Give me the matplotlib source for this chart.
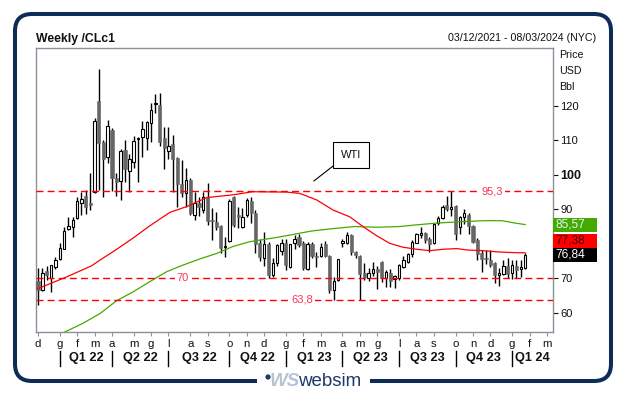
import numpy as np
import matplotlib
matplotlib.use("Agg")
import matplotlib.pyplot as plt
import matplotlib.transforms as mtransforms
from matplotlib.patches import Rectangle, FancyBboxPatch, Circle

plt.rcParams['font.family'] = ['Liberation Sans', 'DejaVu Sans']

# =========================
# Dati (settimanali, CLc1)
# =========================

opens = [69.3, 66.6, 72.1, 70.0, 73.2, 75.5, 78.6, 84.2, 84.8, 87.4,
         91.7, 93.9, 91.7, 95.0, 121.4, 109.6, 105.1, 113.0, 99.2, 98.3,
         107.2, 101.2, 103.8, 110.3, 110.9, 110.6, 115.0, 120.6, 120.3, 110.6,
         107.0, 109.0, 105.0, 97.4, 94.8, 98.5, 88.4, 91.9, 89.8, 93.4,
         87.0, 86.2, 85.2, 79.0, 80.8, 93.7, 88.3, 85.0, 88.4, 92.4,
         89.0, 80.1, 76.0, 79.8, 71.0, 74.3, 78.0, 80.3, 73.4, 80.1,
         81.9, 80.1, 72.7, 79.9, 76.5, 76.5, 79.9, 76.5, 66.6, 69.5,
         80.1, 80.3, 82.6, 77.7, 76.5, 71.4, 70.0, 71.5, 72.8, 74.6,
         70.0, 71.4, 69.7, 70.0, 73.4, 74.8, 77.0, 80.3, 82.6, 83.2,
         81.3, 80.1, 85.9, 87.4, 91.3, 90.2, 91.0, 85.0, 87.7, 88.4,
         85.2, 81.1, 77.2, 75.7, 75.3, 74.5, 71.0, 71.2, 73.6, 71.6,
         73.6, 72.6, 72.9]
highs = [72.9, 72.9, 73.6, 73.9, 76.3, 80.3, 85.0, 87.9, 87.9, 93.7,
         94.9, 95.6, 100.5, 116.6, 130.7, 110.1, 115.8, 113.5, 100.5, 107.4,
         110.1, 106.0, 111.3, 110.9, 115.6, 115.6, 120.8, 123.5, 123.7, 114.0,
         114.0, 111.6, 105.2, 104.3, 101.9, 99.0, 94.9, 93.7, 95.1, 97.5,
         90.3, 89.3, 85.5, 82.1, 92.9, 93.9, 90.8, 90.3, 93.3, 93.7,
         89.8, 81.4, 83.3, 80.6, 76.0, 80.0, 81.5, 81.5, 80.0, 82.5,
         82.7, 80.9, 80.6, 80.6, 77.7, 80.3, 80.9, 76.8, 70.5, 75.7,
         81.5, 83.5, 82.9, 78.0, 76.6, 74.3, 72.9, 74.8, 73.5, 75.0,
         72.5, 72.8, 71.0, 74.0, 76.5, 77.4, 81.1, 83.0, 84.9, 83.5,
         82.1, 86.1, 88.1, 91.3, 93.9, 95.3, 91.3, 88.0, 90.2, 89.0,
         85.5, 81.6, 78.2, 78.2, 78.2, 74.8, 72.9, 75.3, 76.0, 75.2,
         75.3, 75.2, 77.2]
lows = [62.2, 66.4, 69.5, 65.9, 72.7, 75.2, 78.4, 84.0, 82.1, 87.2,
        88.4, 88.6, 89.8, 94.7, 95.6, 93.5, 103.5, 95.4, 93.9, 92.7,
        98.0, 95.1, 101.9, 98.0, 105.1, 107.2, 109.5, 117.9, 108.4, 101.6,
        104.6, 95.1, 90.6, 93.7, 90.6, 88.4, 86.9, 88.2, 88.8, 85.5,
        81.1, 84.0, 77.2, 76.1, 80.6, 85.0, 84.5, 84.5, 87.9, 85.9,
        77.2, 75.0, 73.6, 70.1, 70.3, 73.5, 76.8, 72.5, 73.0, 78.5,
        79.0, 72.4, 72.4, 75.8, 73.4, 76.3, 76.3, 65.6, 63.7, 69.2,
        79.0, 80.0, 76.8, 76.0, 63.7, 69.5, 69.3, 70.6, 67.0, 69.0,
        67.5, 67.5, 67.1, 69.5, 73.0, 74.3, 76.3, 80.1, 81.8, 80.1,
        77.7, 79.9, 85.4, 87.1, 89.6, 88.2, 81.1, 82.8, 85.6, 82.8,
        80.1, 75.3, 71.9, 74.0, 73.4, 68.5, 67.7, 70.9, 70.0, 69.9,
        70.0, 70.5, 72.6]
closes = [66.6, 71.5, 70.9, 73.7, 75.3, 78.7, 83.6, 85.2, 86.9, 92.4,
          93.0, 90.8, 91.3, 115.6, 109.2, 104.5, 114.2, 99.2, 97.9, 107.0,
          101.7, 104.6, 109.8, 110.6, 113.2, 115.2, 118.8, 120.8, 109.4, 107.7,
          108.4, 104.5, 97.4, 94.8, 98.5, 88.8, 91.9, 90.6, 93.7, 86.7,
          86.7, 85.0, 78.7, 79.4, 92.5, 85.5, 87.8, 87.9, 92.7, 89.0,
          79.9, 76.1, 79.9, 71.0, 74.3, 79.5, 80.2, 73.8, 79.8, 81.4,
          79.5, 72.9, 79.9, 76.5, 76.2, 79.2, 76.5, 66.7, 69.2, 75.5,
          80.7, 82.6, 77.7, 76.6, 71.2, 70.3, 71.4, 72.6, 71.7, 70.2,
          71.8, 69.2, 70.6, 73.8, 75.4, 77.0, 80.6, 82.8, 83.2, 81.2,
          79.8, 85.6, 87.5, 90.8, 90.0, 90.8, 82.7, 87.7, 88.8, 85.2,
          80.5, 77.0, 75.6, 75.5, 73.8, 70.9, 71.4, 73.6, 71.2, 73.8,
          72.4, 73.2, 76.84]

# medie mobili (lette a intervalli sul grafico)
ma_red_x = [0, 6.6, 12.3, 14.3, 18.1, 21.8, 25.7, 30.3, 34.2, 38.8,
            44.8, 49.4, 57.2, 60.2, 64.1, 67.8, 71.7, 74.7, 77.9, 80.9,
            83.9, 87.1, 90.1, 93.1, 96.3, 98.6, 102.3, 106.2, 110.0, 112.0]
ma_red_y = [67.0, 70.4, 73.6, 75.3, 78.4, 81.6, 85.2, 89.1, 90.8, 93.4,
            94.2, 95.1, 95.0, 94.6, 92.7, 89.8, 87.8, 85.0, 82.3, 80.1,
            79.0, 78.4, 78.0, 78.4, 78.6, 78.2, 78.0, 77.6, 77.4, 77.38]
ma_green_x = [5.5, 10.3, 14.3, 18.1, 21.8, 25.7, 29.6, 33.3, 37.2, 41.1,
              44.8, 48.7, 55.2, 62.9, 67.8, 72.9, 77.9, 83.2, 87.1, 91.7,
              97.0, 102.8, 106.6, 109.7, 112.0]
ma_green_y = [54.0, 56.9, 59.8, 63.5, 66.0, 69.0, 71.9, 73.8, 75.6, 77.2,
              79.2, 80.6, 81.9, 83.7, 84.4, 85.0, 84.8, 85.0, 85.5, 86.0,
              86.4, 86.7, 86.7, 86.0, 85.57]

levels = [95.3, 70.0, 63.8]
level_text = ["95,3", "70", "63,8"]
level_label_x = [104.4, 33.3, 60.7]

month_idx = [0, 5, 9, 13, 17, 22, 26, 30, 35, 39, 44, 48, 52, 57,
             61, 65, 70, 74, 78, 83, 87, 91, 96, 100, 104, 109, 113, 117]
month_labels = ["d", "g", "f", "m", "a", "m", "g", "l", "a", "s", "o", "n", "d", "g",
                "f", "m", "a", "m", "g", "l", "a", "s", "o", "n", "d", "g", "f", "m"]
quarter_sep = [5, 17, 30, 44, 57, 70, 83, 96, 109]
quarter_labels = ["Q1 22", "Q2 22", "Q3 22", "Q4 22", "Q1 23",
                  "Q2 23", "Q3 23", "Q4 23", "Q1 24"]

ytick_vals = [60, 70, 90, 100, 110, 120]

last_close = closes[-1]
last_red = ma_red_y[-1]
last_green = ma_green_y[-1]

# =========================
# Figura
# =========================

fig = plt.figure(figsize=(6.27, 3.96), dpi=100)

bg = fig.add_axes([0, 0, 1, 1], zorder=0)
bg.set_xlim(0, 627)
bg.set_ylim(396, 0)
bg.axis("off")

bg.add_patch(FancyBboxPatch((15, 14), 596, 367,
                            boxstyle="round,pad=0,rounding_size=17",
                            lw=2.9, ec="#0e2c58", fc="none"))
bg.add_patch(Rectangle((257, 372), 113, 24, fc="white", ec="none"))
bg.add_patch(Circle((268, 377), 1.9, color="#1b3766"))
bg.text(270, 382, "WS", fontsize=13.5, fontweight="bold", style="italic",
        color="#b8c2d2", ha="left", va="center")
bg.text(298, 381, "websim", fontsize=13.5, color="#1d3868", ha="left", va="center")

bg.text(36, 39, "Weekly /CLc1", fontsize=8.8, fontweight="bold",
        color="#111111", ha="left", va="center")
bg.text(596, 38, "03/12/2021 - 08/03/2024 (NYC)", fontsize=7.7,
        color="#111111", ha="right", va="center")
for yy, t in zip([55, 71, 87], ["Price", "USD", "Bbl"]):
    bg.text(559, yy, t, fontsize=7.7, color="#111111", ha="left", va="center")

ax = fig.add_axes([36 / 627, 1 - 332 / 396, 517 / 627, 284 / 396], zorder=1)
ax.set_xlim(-0.46, 118.4)
ax.set_ylim(54.4, 136.8)

o = np.array(opens)
h = np.array(highs)
l = np.array(lows)
c = np.array(closes)
x = np.arange(len(c))
up = c >= o
bottoms = np.minimum(o, c)
heights = np.maximum(np.abs(c - o), 0.3)

ax.vlines(x, l, h, color="black", lw=1, zorder=2)
ax.bar(x[up], heights[up], bottom=bottoms[up], width=0.55,
       fc="white", ec="black", lw=0.8, zorder=3)
ax.bar(x[~up], heights[~up], bottom=bottoms[~up], width=0.72,
       fc="#666666", ec="#666666", lw=0.4, zorder=3)

ax.plot(ma_green_x, ma_green_y, color="#44aa00", lw=0.9, zorder=4)
ax.plot(ma_red_x, ma_red_y, color="#ff0000", lw=0.9, zorder=4)

for lvl, txt, lx in zip(levels, level_text, level_label_x):
    ax.axhline(lvl, color="#ff0000", lw=1, dashes=(5, 3), zorder=4)
    ax.text(lx, lvl, txt, color="#ff3355", fontsize=8, ha="center", va="center",
            bbox=dict(fc="white", ec="none", pad=1.2), zorder=5)

ax.annotate("WTI", xy=(63.4, 98.2), xytext=(72.0, 105.8), fontsize=8,
            ha="center", va="center", color="#111111",
            bbox=dict(boxstyle="square,pad=0.7", fc="white", ec="black", lw=0.8),
            arrowprops=dict(arrowstyle="-", color="black", lw=0.8,
                            relpos=(0, 0), shrinkA=0, shrinkB=0),
            zorder=6)

# assi
for sp in ax.spines.values():
    sp.set_color("#8f8f9c")
    sp.set_linewidth(1)

ax.yaxis.tick_right()
ax.set_yticks(ytick_vals)
ax.set_yticklabels([str(v) for v in ytick_vals])
ax.tick_params(axis="y", length=3.6, width=0.8, pad=1.8, labelsize=8,
               colors="#111111")
for lab in ax.get_yticklabels():
    if lab.get_text() == "100":
        lab.set_fontweight("bold")
        lab.set_fontsize(9)

ax.set_xticks(month_idx)
ax.set_xticklabels(month_labels)
ax.tick_params(axis="x", length=3, width=0.8, pad=2, labelsize=8.2,
               colors="#111111")
ax.tick_params(axis="x", color="#8f8f9c")

trans_x = mtransforms.blended_transform_factory(ax.transData, ax.transAxes)
for s in quarter_sep:
    ax.plot([s, s], [-0.067, -0.12], transform=trans_x, clip_on=False,
            color="black", lw=1)
q_edges = quarter_sep + [ax.get_xlim()[1]]
for i, q in enumerate(quarter_labels):
    xc = (q_edges[i] + q_edges[i + 1]) / 2
    ax.text(xc, -0.092, q, transform=trans_x, fontsize=9.2, fontweight="bold",
            ha="center", va="center", color="#111111")

# box con ultimi valori
trans_y = mtransforms.blended_transform_factory(ax.transAxes, ax.transData)
box_h = 4.06
boxes = [
    (last_green, "#44aa00", "#e0f4ff", last_green),
    (last_close + box_h, "#ff0000", "#3a0000", last_red),
    (last_close, "#000000", "#ffffff", last_close),
]
for yc, fc, tc, val in boxes:
    ax.add_patch(Rectangle((1.0, yc - box_h / 2), 0.086, box_h, transform=trans_y,
                           fc=fc, ec="none", clip_on=False, zorder=6))
    ax.text(1.004, yc, f"{val:.2f}".replace(".", ","), transform=trans_y,
            fontsize=8.6, color=tc, ha="left", va="center", zorder=7)

fig.savefig("out.png", dpi=100)
plt.close(fig)
